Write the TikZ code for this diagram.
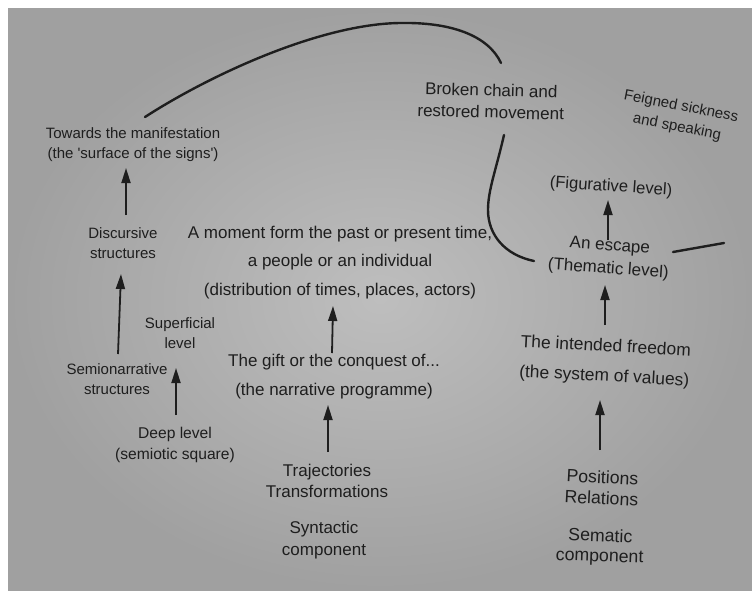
\documentclass[tikz,border=0pt]{standalone}
\usepackage{fontspec}
\setmainfont{Liberation Sans}
\usetikzlibrary{arrows.meta}
\definecolor{ink}{HTML}{1E1E1E}
\definecolor{pagein}{HTML}{BEBEBE}
\definecolor{pageout}{HTML}{A0A0A0}
\begin{document}
\begin{tikzpicture}[x=1pt,y=-1pt,
  lbl/.style={text=ink, font=\fontsize{15}{20}\selectfont, align=center, inner sep=1pt},
  big/.style={lbl, font=\fontsize{17}{21}\selectfont},
  arr/.style={draw=ink, line width=1.8pt, -{Triangle[width=9pt,length=15pt]}},
  crv/.style={draw=ink, line width=2.4pt, line cap=round}]
\useasboundingbox (0,0) rectangle (752,590);
\fill[white] (0,0) rectangle (752,590);
\shade[inner color=pagein, outer color=pageout] (8,8) rectangle (752,590);

% left column
\node[lbl] (tow) at (133,145) {Towards the manifestation\\(the \textquotesingle surface of the signs\textquotesingle)};
\node[lbl] (disc) at (123,243.5) {Discursive\\structures};
\node[lbl] (sup) at (180,333.5) {Superficial\\level};
\node[lbl] (semi) at (117,379.5) {Semionarrative\\structures};
\node[lbl, font=\fontsize{15.6}{20.5}\selectfont] (deep) at (175,445) {Deep level\\(semiotic square)};

% middle column
\node[big, font=\fontsize{17}{28.5}\selectfont] (mom) at (340,262.5) {A moment form the past or present time,\\a people or an individual\\(distribution of times, places, actors)};
\node[big, font=\fontsize{17}{29}\selectfont] (gift) at (334,377) {The gift or the conquest of...\\(the narrative programme)};
\node[big] (traj) at (327,481) {Trajectories\\Transformations};
\node[big, font=\fontsize{17}{22}\selectfont] (syn) at (324,540) {Syntactic\\component};

% right column
\node[big, rotate=-1.5, font=\fontsize{17}{22}\selectfont] (brok) at (491,101) {Broken chain and\\restored movement};
\node[lbl, rotate=-11, font=\fontsize{15}{21}\selectfont] (feig) at (679,117) {Feigned sickness\\and speaking};
\node[big, rotate=-4, font=\fontsize{16.6}{20}\selectfont] (fig) at (611,187) {(Figurative level)};
\node[big, rotate=-4, font=\fontsize{17}{23}\selectfont] (esc) at (609,258) {An escape\\(Thematic level)};
\node[big, rotate=-3, font=\fontsize{17.4}{30}\selectfont] (free) at (605,362) {The intended freedom\\(the system of values)};
\node[big, rotate=-3, font=\fontsize{17.7}{21}\selectfont] (pos) at (602,487.5) {Positions\\Relations};
\node[big, rotate=-2, font=\fontsize{17.7}{20}\selectfont] (sem) at (600,547) {Sematic\\component};

% arrows
\draw[arr] ([shift={(3,-28.5)}]disc.center) -- ([shift={(-7,23)}]tow.center);
\draw[arr] ([shift={(1,-25.5)}]semi.center) -- ([shift={(-2,30.5)}]disc.center);
\draw[arr] ([shift={(1,-30)}]deep.center) -- ([shift={(-4,34.5)}]sup.center);
\draw[arr] ([shift={(-2,-24)}]gift.center) -- ([shift={(-7,43.5)}]mom.center);
\draw[arr] ([shift={(1,-29)}]traj.center) -- ([shift={(-6,28)}]gift.center);
\draw[arr] ([shift={(-2,-37.5)}]pos.center) -- ([shift={(-5,38)}]free.center);
\draw[arr] ([shift={(0,-37)}]free.center) -- ([shift={(-4,27)}]esc.center);
\draw[arr] ([shift={(-1,-18)}]esc.center) -- ([shift={(-3,13)}]fig.center);

% curves
\coordinate (arcS) at ([shift={(12,-28)}]tow.center);
\coordinate (arcE) at ([shift={(10,-38)}]brok.center);
\draw[crv] (arcS) .. controls (210,75) and (320,24) .. (400,23)
  .. controls (450,22) and (488,35) .. (arcE);
\coordinate (hookS) at ([shift={(13,34)}]brok.center);
\coordinate (hookE) at ([shift={(-75,3)}]esc.center);
\draw[crv] (hookS) .. controls (496,170) and (488,190) .. (488,210)
  .. controls (488,235) and (505,255) .. (hookE);
\coordinate (barS) at ([shift={(64,-6)}]esc.center);
\coordinate (barE) at ([shift={(115,-15)}]esc.center);
\draw[crv] (barS) -- (barE);
\end{tikzpicture}
\end{document}
